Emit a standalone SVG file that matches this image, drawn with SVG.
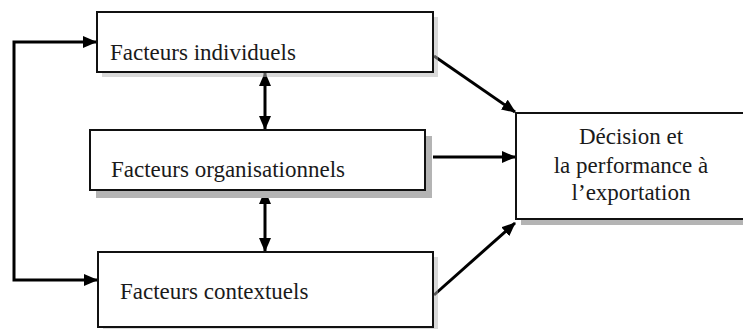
<svg xmlns="http://www.w3.org/2000/svg" width="743" height="329" viewBox="0 0 743 329">
<defs>
<style>
.box{fill:#fff;stroke:#111;stroke-width:2}
.sh{fill:#b4b4b4}
.t{font-family:"Liberation Serif","Times New Roman",serif;font-size:23px;fill:#1a1a1a}
.c{fill:none;stroke:#000;stroke-width:3}
</style>
<marker id="ah" markerUnits="userSpaceOnUse" markerWidth="14" markerHeight="12" refX="13" refY="6" orient="auto-start-reverse">
<path d="M0,0 L14,6 L0,12 Z" fill="#000"/>
</marker>
</defs>
<rect width="743" height="329" fill="#fff"/>
<g id="connectors">
<path class="c" d="M96,42 H14 V280 H97" marker-start="url(#ah)" marker-end="url(#ah)"/>
<path class="c" d="M265,73 V129" marker-start="url(#ah)" marker-end="url(#ah)"/>
<path class="c" d="M265,191 V251" marker-start="url(#ah)" marker-end="url(#ah)"/>
<path class="c" d="M434,56 L515,112" marker-end="url(#ah)"/>
<path class="c" d="M433,157 H515" marker-end="url(#ah)"/>
<path class="c" d="M434,295 L515,223" marker-end="url(#ah)"/>
</g>
<g id="n1">
<rect class="sh" x="102" y="17" width="336" height="60" opacity="0.5"/>
<rect class="box" x="97" y="12" width="336" height="60"/>
<text class="t" x="110" y="60">Facteurs individuels</text>
</g>
<g id="n2">
<rect class="sh" x="96" y="136" width="336" height="62"/>
<rect class="box" x="90" y="130" width="335" height="60"/>
<text class="t" x="111" y="177">Facteurs organisationnels</text>
</g>
<g id="n3">
<rect class="sh" x="103" y="257" width="335" height="75" opacity="0.5"/>
<rect class="box" x="98" y="252" width="335" height="75"/>
<text class="t" x="120" y="299">Facteurs contextuels</text>
</g>
<g id="n4">
<rect class="sh" x="521" y="118" width="230" height="107"/>
<rect class="box" x="516" y="113" width="235" height="106"/>
<text class="t" text-anchor="middle" x="631" y="144">Décision et</text>
<text class="t" text-anchor="middle" x="631" y="173">la performance à</text>
<text class="t" text-anchor="middle" x="631" y="200">l’exportation</text>
</g>
</svg>
